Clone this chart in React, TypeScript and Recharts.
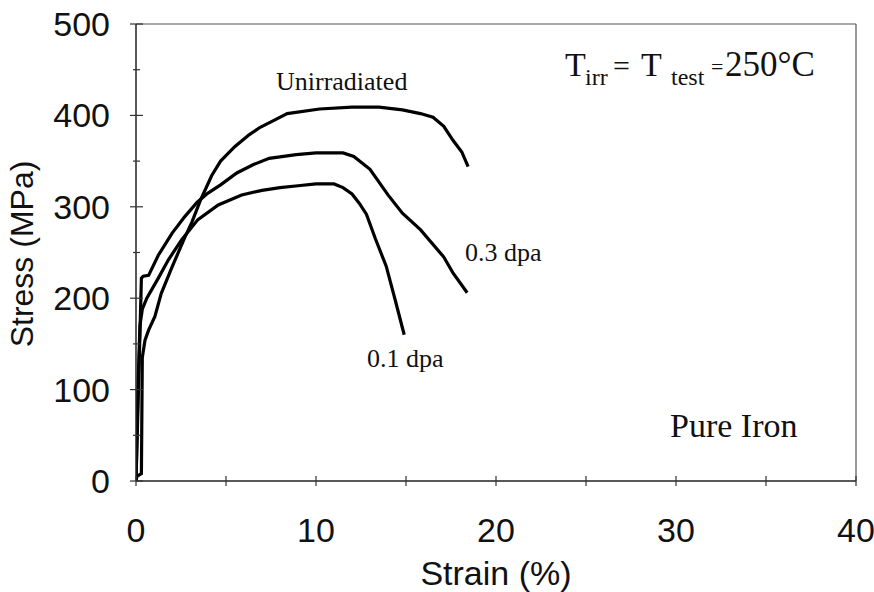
import { LineChart, Line, XAxis, YAxis, ReferenceLine } from 'recharts'

// stress-strain curves, pure iron tested at 250°C
const strainUnirr = [0, 0.05, 0.3, 0.35, 0.5, 0.7, 1.05, 1.4, 2.0, 2.7, 3.1, 3.6, 4.2, 4.7, 5.5, 6.3, 6.9, 7.8, 8.4, 10.2, 12, 13.5, 14.8, 15.8, 16.5, 17.1, 17.6, 18.1, 18.45]
const stressUnirr = [0, 5, 8, 135, 154, 165, 180, 205, 234, 266, 283, 308, 334, 350, 366, 379, 387, 396, 402, 407, 409, 409, 406, 402, 398, 388, 373, 360, 344]

const strain03 = [0, 0.15, 0.3, 0.4, 0.7, 1.24, 2.0, 2.7, 3.4, 4.0, 4.7, 5.6, 6.5, 7.4, 8.9, 10, 11.5, 12.1, 13, 14, 14.8, 15.8, 17.1, 17.6, 18.4]
const stress03 = [0, 110, 222, 224, 225, 247, 271, 289, 305, 315, 324, 337, 346, 353, 357, 359, 359, 355, 341, 313, 293, 275, 245, 228, 206]

const strain01 = [0, 0.12, 0.22, 0.35, 0.6, 1.24, 1.8, 2.54, 3.44, 4.57, 5.87, 7, 8, 9, 10, 11, 11.5, 12, 12.4, 12.8, 13.3, 13.9, 14.4, 14.9]
const stress01 = [0, 110, 170, 188, 200, 222, 242, 264, 286, 302, 313, 318, 321, 323, 325, 325, 321, 314, 304, 292, 265, 235, 198, 160]

const xTicks = [0, 5, 10, 15, 20, 25, 30, 35, 40]
const yTicks = [0, 50, 100, 150, 200, 250, 300, 350, 400, 450, 500]

const toPoints = (xs: number[], ys: number[]) => xs.map((x, i) => ({ x, y: ys[i] }))

const unirr = toPoints(strainUnirr, stressUnirr)
const dpa03 = toPoints(strain03, stress03)
const dpa01 = toPoints(strain01, stress01)

const SANS = '"Liberation Sans", Arial, sans-serif'
const SERIF = '"Liberation Serif", "Times New Roman", serif'
const Y_GAP = 26
const X_GAP = 61

function YTick(props: any) {
  const { x, y, payload } = props
  const ax = x + Y_GAP
  const major = payload.value % 100 === 0
  return (
    <g>
      <line x1={ax - (major ? 6 : 3)} x2={ax + (major ? 7 : 4)} y1={y} y2={y} stroke="#333" strokeWidth={1.2} />
      {major && (
        <text x={x} y={y} dy={12} textAnchor="end" fontFamily={SANS} fontSize={34} fill="#111">
          {payload.value}
        </text>
      )}
    </g>
  )
}

function XTick(props: any) {
  const { x, y, payload } = props
  const ay = y - X_GAP
  const major = payload.value % 10 === 0
  return (
    <g>
      <line x1={x} x2={x} y1={ay - 5} y2={ay + 5} stroke="#333" strokeWidth={1.2} />
      {major && (
        <text x={x} y={y} textAnchor="middle" fontFamily={SANS} fontSize={34} fill="#111">
          {payload.value}
        </text>
      )}
    </g>
  )
}

export default function App() {
  return (
    <div style={{ position: 'absolute', left: 0, top: 0, width: 874, height: 592, background: '#fff' }}>
      <LineChart width={874} height={592} margin={{ top: 24, right: 18, bottom: 0, left: 0 }}>
        <XAxis
          type="number"
          dataKey="x"
          domain={[0, 40]}
          ticks={xTicks}
          interval={0}
          height={111}
          tickSize={0}
          tickMargin={X_GAP}
          tick={<XTick />}
          axisLine={{ stroke: '#222', strokeWidth: 1.5 }}
          allowDataOverflow
        />
        <YAxis
          type="number"
          dataKey="y"
          domain={[0, 500]}
          ticks={yTicks}
          interval={0}
          width={136}
          tickSize={0}
          tickMargin={Y_GAP}
          tick={<YTick />}
          axisLine={{ stroke: '#222', strokeWidth: 1.5 }}
        />
        <ReferenceLine y={500} stroke="#555" strokeWidth={1.2} />
        <ReferenceLine x={40} stroke="#555" strokeWidth={1.2} />
        <Line data={unirr} dataKey="y" type="linear" stroke="#000" strokeWidth={3.2} dot={false} isAnimationActive={false} />
        <Line data={dpa03} dataKey="y" type="linear" stroke="#000" strokeWidth={3.2} dot={false} isAnimationActive={false} />
        <Line data={dpa01} dataKey="y" type="linear" stroke="#000" strokeWidth={3.2} dot={false} isAnimationActive={false} />
      </LineChart>

      <svg width={874} height={592} style={{ position: 'absolute', left: 0, top: 0, pointerEvents: 'none' }}>
        <text x={33} y={254} transform="rotate(-90, 33, 254)" textAnchor="middle" fontFamily={SANS} fontSize={32} fill="#111">
          Stress (MPa)
        </text>
        <text x={496} y={585} textAnchor="middle" fontFamily={SANS} fontSize={34} fill="#111">
          Strain (%)
        </text>

        <text x={276} y={90} fontFamily={SERIF} fontSize={26} fill="#111">Unirradiated</text>
        <text x={465} y={261} fontFamily={SERIF} fontSize={26} fill="#111">0.3 dpa</text>
        <text x={367} y={367} fontFamily={SERIF} fontSize={26} fill="#111">0.1 dpa</text>
        <text x={670} y={437} fontFamily={SERIF} fontSize={34} fill="#111">Pure Iron</text>

        <text fontFamily={SERIF} fill="#111">
          <tspan x={565} y={76} fontSize={34}>T</tspan>
          <tspan x={585} y={85} fontSize={24}>irr</tspan>
          <tspan x={613} y={76} fontSize={30}>=</tspan>
          <tspan x={641} y={76} fontSize={34}>T</tspan>
          <tspan x={671} y={85} fontSize={24}>test</tspan>
          <tspan x={711} y={74} fontSize={22}>=</tspan>
          <tspan x={725} y={76} fontSize={35}>250°C</tspan>
        </text>
      </svg>
    </div>
  )
}
